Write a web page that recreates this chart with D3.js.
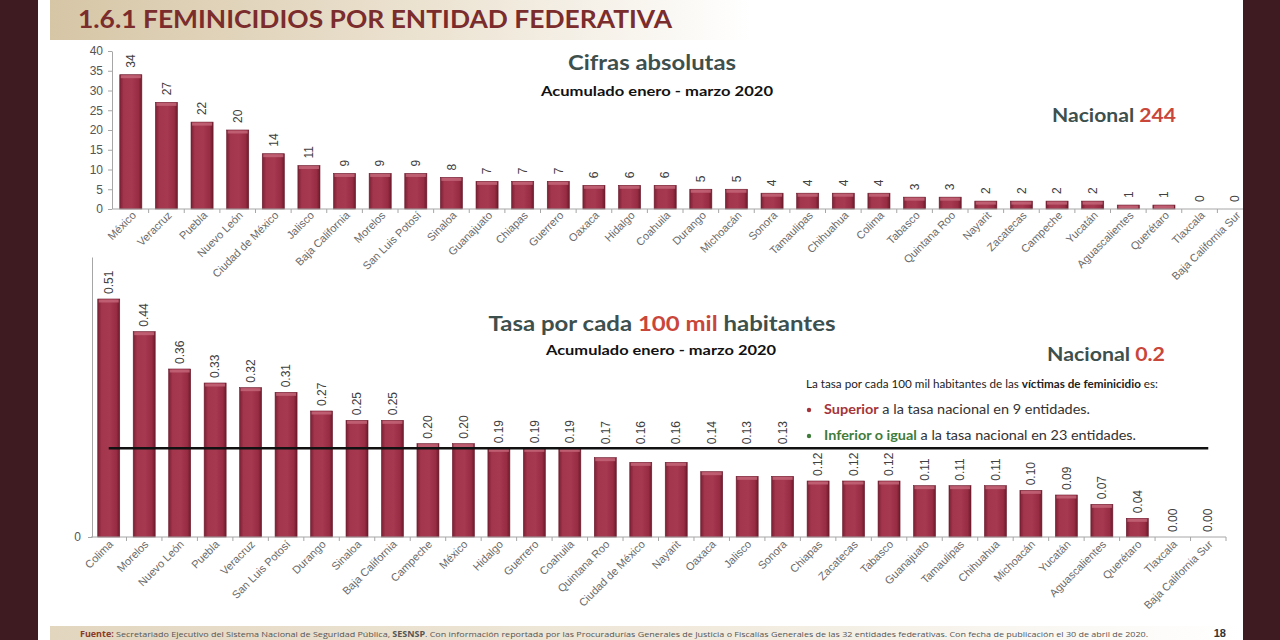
<!DOCTYPE html>
<html>
<head>
<meta charset="utf-8">
<script src="https://cdn.jsdelivr.net/npm/d3@7"></script>
<style>
  body { margin: 0; background: #fff; }
  svg { display: block; }
  .cat { font-family: "Liberation Sans", Arial, sans-serif; font-size: 11px; fill: #6a6a6a; }
  .val { font-family: "Liberation Sans", Arial, sans-serif; font-size: 12px; fill: #404040; }
  .axis text { font-family: "Liberation Sans", Arial, sans-serif; font-size: 12px; fill: #555; }
  .axis path, .axis line { stroke: #a6a6a6; }
  .head { font-family: Lato, "Open Sans", sans-serif; font-weight: bold; }
</style>
</head>
<body>
<svg width="1280" height="640"></svg>
<script>
// cifras absolutas, enero - marzo 2020
const absStates = ['México', 'Veracruz', 'Puebla', 'Nuevo León', 'Ciudad de México', 'Jalisco',
  'Baja California', 'Morelos', 'San Luis Potosí', 'Sinaloa', 'Guanajuato', 'Chiapas', 'Guerrero',
  'Oaxaca', 'Hidalgo', 'Coahuila', 'Durango', 'Michoacán', 'Sonora', 'Tamaulipas', 'Chihuahua',
  'Colima', 'Tabasco', 'Quintana Roo', 'Nayarit', 'Zacatecas', 'Campeche', 'Yucatán',
  'Aguascalientes', 'Querétaro', 'Tlaxcala', 'Baja California Sur'];
const absValues = [34, 27, 22, 20, 14, 11, 9, 9, 9, 8, 7, 7, 7, 6, 6, 6, 5, 5, 4, 4, 4, 4, 3, 3,
  2, 2, 2, 2, 1, 1, 0, 0];
const absTicks = [0, 5, 10, 15, 20, 25, 30, 35, 40];

// tasa por cada 100 mil habitantes
const rateStates = ['Colima', 'Morelos', 'Nuevo León', 'Puebla', 'Veracruz', 'San Luis Potosí',
  'Durango', 'Sinaloa', 'Baja California', 'Campeche', 'México', 'Hidalgo', 'Guerrero', 'Coahuila',
  'Quintana Roo', 'Ciudad de México', 'Nayarit', 'Oaxaca', 'Jalisco', 'Sonora', 'Chiapas',
  'Zacatecas', 'Tabasco', 'Guanajuato', 'Tamaulipas', 'Chihuahua', 'Michoacán', 'Yucatán',
  'Aguascalientes', 'Querétaro', 'Tlaxcala', 'Baja California Sur'];
const rateValues = [0.51, 0.44, 0.36, 0.33, 0.32, 0.31, 0.27, 0.25, 0.25, 0.20, 0.20, 0.19, 0.19,
  0.19, 0.17, 0.16, 0.16, 0.14, 0.13, 0.13, 0.12, 0.12, 0.12, 0.11, 0.11, 0.11, 0.10, 0.09, 0.07,
  0.04, 0.00, 0.00];
const rateTicks = [0];
const nationalLine = 0.19;

const svg = d3.select('svg');
const defs = svg.append('defs');

const band = defs.append('linearGradient').attr('id', 'band').attr('x1', 0).attr('x2', 1);
band.append('stop').attr('offset', '0%').attr('stop-color', '#d6c6a6');
band.append('stop').attr('offset', '55%').attr('stop-color', '#ece3d2');
band.append('stop').attr('offset', '100%').attr('stop-color', '#ffffff');

const foot = defs.append('linearGradient').attr('id', 'foot').attr('x1', 0).attr('x2', 1);
foot.append('stop').attr('offset', '0%').attr('stop-color', '#e2d6bf');
foot.append('stop').attr('offset', '60%').attr('stop-color', '#f2ece0');
foot.append('stop').attr('offset', '100%').attr('stop-color', '#ffffff');

const barGrad = defs.append('linearGradient').attr('id', 'bar').attr('x1', 0).attr('x2', 1);
[['0%', '#7a2034'], ['18%', '#a3364d'], ['55%', '#a63850'], ['85%', '#972c43'], ['100%', '#6c1a2c']]
  .forEach(([o, c]) => barGrad.append('stop').attr('offset', o).attr('stop-color', c));

// header band
svg.append('rect').attr('x', 50).attr('y', 0).attr('width', 700).attr('height', 40).attr('fill', 'url(#band)');
svg.append('text')
  .attr('class', 'head')
  .attr('x', 78).attr('y', 28)
  .attr('font-size', 25)
  .attr('fill', '#7b2c2c')
  .attr('textLength', 594).attr('lengthAdjust', 'spacingAndGlyphs')
  .text('1.6.1 FEMINICIDIOS POR ENTIDAD FEDERATIVA');

// labelY: where the bottom of a rotated value label goes, given the bar top
function barChart(g, states, values, x, y, fmt, catX, catY, labelY) {
  const zero = y(0);

  g.append('g')
    .selectAll('rect')
    .data(values)
    .enter()
    .append('rect')
    .attr('x', (_, i) => x(states[i]))
    .attr('y', d => y(d))
    .attr('width', x.bandwidth())
    .attr('height', d => zero - y(d))
    .attr('fill', 'url(#bar)')
    .attr('stroke', '#6a1a2b')
    .attr('stroke-width', 0.6);

  // light cap on top of each bar
  g.append('g')
    .selectAll('rect')
    .data(values.map((d, i) => [d, states[i]]).filter(d => d[0] > 0))
    .enter()
    .append('rect')
    .attr('x', d => x(d[1]) + 1)
    .attr('y', d => y(d[0]) + 0.5)
    .attr('width', x.bandwidth() - 2)
    .attr('height', d => Math.min(3, zero - y(d[0]) - 1))
    .attr('fill', '#c6687a')
    .attr('opacity', 0.8);

  g.append('g')
    .selectAll('text')
    .data(values)
    .enter()
    .append('text')
    .attr('class', 'val')
    .attr('transform', (d, i) => `translate(${x(states[i]) + x.bandwidth() / 2},${labelY(y(d))}) rotate(-90)`)
    .attr('dy', '0.35em')
    .text(fmt);

  g.append('g')
    .selectAll('text')
    .data(states)
    .enter()
    .append('text')
    .attr('class', 'cat')
    .attr('text-anchor', 'end')
    .attr('transform', d => `translate(${x(d) + x.bandwidth() / 2 + catX},${catY}) rotate(-45)`)
    .text(d => d);

  // baseline and category separators
  const step = x.step();
  g.append('line')
    .attr('x1', x.range()[0]).attr('x2', x.range()[1])
    .attr('y1', zero).attr('y2', zero)
    .attr('stroke', '#a6a6a6');
  g.append('g')
    .selectAll('line')
    .data(states)
    .enter()
    .append('line')
    .attr('x1', d => x(d) + x.bandwidth() / 2 + step / 2)
    .attr('x2', d => x(d) + x.bandwidth() / 2 + step / 2)
    .attr('y1', zero).attr('y2', zero + 4)
    .attr('stroke', '#a6a6a6');
}

// top chart
const xAbs = d3.scaleBand().domain(absStates).range([113, 1253]).paddingInner(0.38).paddingOuter(0.19);
const yAbs = d3.scaleLinear().domain([0, 40]).range([209, 51]);
const gAbs = svg.append('g');
gAbs.append('g')
  .attr('class', 'axis')
  .attr('transform', 'translate(112,0)')
  .call(d3.axisLeft(yAbs).tickValues(absTicks).tickSize(4).tickSizeOuter(0).tickPadding(5));
barChart(gAbs, absStates, absValues, xAbs, yAbs, d => d, 6, 216, top => top - 7);

// bottom chart
const xRate = d3.scaleBand().domain(rateStates).range([91, 1226]).paddingInner(0.38).paddingOuter(0.19);
const yRate = d3.scaleLinear().domain([0, 0.6]).range([537, 257]);
const lineY = yRate(nationalLine);
const gRate = svg.append('g');
gRate.append('g')
  .attr('class', 'axis')
  .attr('transform', 'translate(92,0)')
  .call(d3.axisLeft(yRate).tickValues(rateTicks).tickFormat(d3.format('d')).tickSize(4).tickSizeOuter(0).tickPadding(7));
// labels that would cross the national line are lifted above it
barChart(gRate, rateStates, rateValues, xRate, yRate, d => d.toFixed(2), 5, 545, top => {
  const b = top - 5;
  return (b > lineY && b - 27 < lineY) ? lineY - 4 : b;
});

gRate.append('line')
  .attr('x1', xRate(rateStates[0]) + xRate.bandwidth() / 2)
  .attr('x2', xRate(rateStates[rateStates.length - 1]) + xRate.bandwidth() / 2)
  .attr('y1', lineY).attr('y2', lineY)
  .attr('stroke', '#111').attr('stroke-width', 2.5);

// headings
function heading(x, y, size, parts, anchor, len) {
  const t = svg.append('text')
    .attr('class', 'head')
    .attr('x', x).attr('y', y)
    .attr('font-size', size)
    .attr('text-anchor', anchor);
  if (len) t.attr('textLength', len).attr('lengthAdjust', 'spacingAndGlyphs');
  parts.forEach(([s, c]) => t.append('tspan').attr('fill', c).text(s));
  return t;
}
const slate = '#3e504d';
const red = '#c9463a';

heading(652, 70, 21, [['Cifras absolutas', slate]], 'middle', 168);
heading(657, 96, 13.5, [['Acumulado enero - marzo 2020', '#111']], 'middle', 232);
heading(1176, 122, 19, [['Nacional ', slate], ['244', red]], 'end', 124);

heading(662, 331, 21, [['Tasa por cada ', slate], ['100 mil', red], [' habitantes', slate]], 'middle', 347);
heading(661, 355, 13.5, [['Acumulado enero - marzo 2020', '#111']], 'middle', 230);
heading(1165, 361, 19, [['Nacional ', slate], ['0.2', red]], 'end', 118);

// note on the right
const note = svg.append('text')
  .attr('x', 806).attr('y', 388)
  .attr('font-family', 'Lato, "Open Sans", sans-serif')
  .attr('font-size', 11.5)
  .attr('fill', '#222')
  .attr('textLength', 352).attr('lengthAdjust', 'spacingAndGlyphs');
note.append('tspan').text('La tasa por cada 100 mil habitantes de las ');
note.append('tspan').attr('font-weight', 'bold').text('víctimas de feminicidio');
note.append('tspan').text(' es:');

const bullets = [
  { y: 414, key: 'Superior', rest: ' a la tasa nacional en 9 entidades.', color: '#a5343a', len: 266 },
  { y: 440, key: 'Inferior o igual', rest: ' a la tasa nacional en 23 entidades.', color: '#3f7c3a', len: 312 }
];
bullets.forEach(b => {
  svg.append('circle').attr('cx', 809).attr('cy', b.y - 4).attr('r', 2.2).attr('fill', b.color);
  const t = svg.append('text')
    .attr('x', 824).attr('y', b.y)
    .attr('font-family', 'Lato, "Open Sans", sans-serif')
    .attr('font-size', 12.5)
    .attr('fill', '#333')
    .attr('textLength', b.len).attr('lengthAdjust', 'spacingAndGlyphs');
  t.append('tspan').attr('font-weight', 'bold').attr('fill', b.color).text(b.key);
  t.append('tspan').text(b.rest);
});

// footer
svg.append('rect').attr('x', 50).attr('y', 626).attr('width', 1190).attr('height', 14).attr('fill', 'url(#foot)');
const src = svg.append('text')
  .attr('x', 80).attr('y', 637)
  .attr('font-family', '"Open Sans", sans-serif')
  .attr('font-size', 8)
  .attr('fill', '#555')
  .attr('textLength', 1068).attr('lengthAdjust', 'spacingAndGlyphs');
src.append('tspan').attr('font-weight', 'bold').attr('fill', '#8a3a2a').text('Fuente: ');
src.append('tspan').text('Secretariado Ejecutivo del Sistema Nacional de Seguridad Pública, ');
src.append('tspan').attr('font-weight', 'bold').text('SESNSP');
src.append('tspan').text('. Con información reportada por las Procuradurías Generales de Justicia o Fiscalías Generales de las 32 entidades federativas. Con fecha de publicación el 30 de abril de 2020.');
svg.append('text')
  .attr('x', 1226).attr('y', 637)
  .attr('text-anchor', 'end')
  .attr('font-family', '"Liberation Sans", Arial, sans-serif')
  .attr('font-weight', 'bold')
  .attr('font-size', 11)
  .attr('fill', '#333')
  .text('18');

// dark side panels
svg.append('rect').attr('x', 0).attr('y', 0).attr('width', 38).attr('height', 640).attr('fill', '#3e1b21');
svg.append('rect').attr('x', 1243).attr('y', 0).attr('width', 37).attr('height', 640).attr('fill', '#3e1b21');
</script>
</body>
</html>
